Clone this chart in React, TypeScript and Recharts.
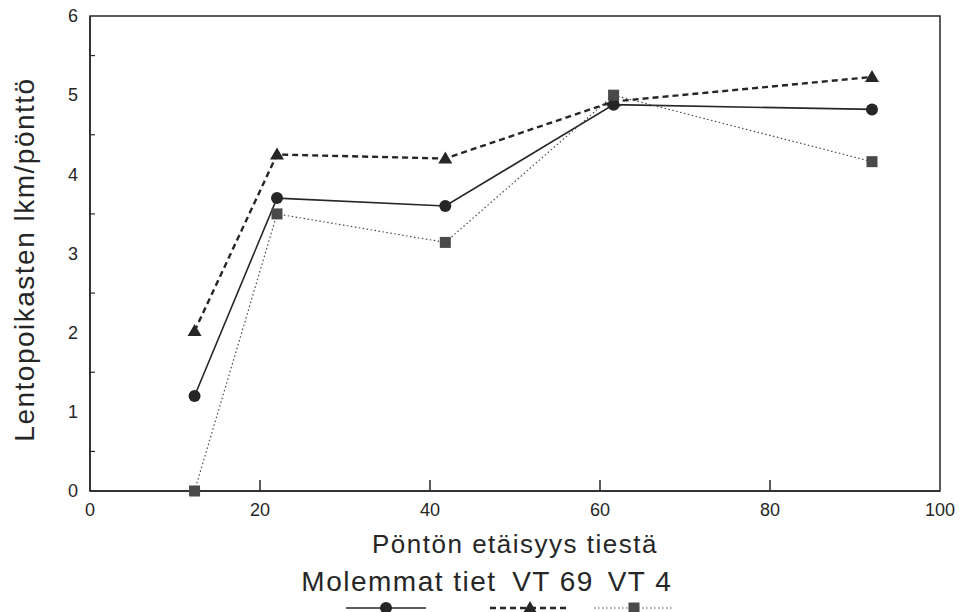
import React from 'react';
import { LineChart, Line, XAxis, YAxis, ReferenceArea, Legend, Label } from 'recharts';

// Pöntön etäisyys tiestä (x) ja lentopoikasten lkm/pönttö kolmelle sarjalle
const distances = [12.3, 22, 41.8, 61.6, 92];
const molemmatTiet = [1.2, 3.7, 3.6, 4.88, 4.82];
const vt69 = [2.02, 4.25, 4.2, 4.92, 5.23];
const vt4 = [0, 3.5, 3.14, 5.0, 4.16];

const xTicks = [0, 20, 40, 60, 80, 100];
const yTicks = [0, 0.5, 1, 1.5, 2, 2.5, 3, 3.5, 4, 4.5, 5, 5.5, 6];

const INK = '#262626';
const FONT = '"Liberation Sans", Arial, sans-serif';

type Shape = 'circle' | 'triangle' | 'square';

const SERIES: { key: string; name: string; dash?: string; width: number; color: string; shape: Shape }[] = [
  { key: 'molemmat', name: 'Molemmat tiet', width: 1.6, color: INK, shape: 'circle' },
  { key: 'vt69', name: 'VT 69', dash: '6 4', width: 2.4, color: INK, shape: 'triangle' },
  { key: 'vt4', name: 'VT 4', dash: '1.5 2.5', width: 1.2, color: '#4a4a4a', shape: 'square' },
];

const data = distances.map((x, i) => ({
  x,
  molemmat: molemmatTiet[i],
  vt69: vt69[i],
  vt4: vt4[i],
}));

// legend layout (label centres, sample centres)
const LEGEND_LABEL_X = [399, 553, 640];
const LEGEND_SAMPLE_X = [386, 530, 634];

function Marker({ cx, cy, shape, color }: { cx?: number; cy?: number; shape: Shape; color: string }) {
  if (cx == null || cy == null) return null;
  if (shape === 'circle') return <circle cx={cx} cy={cy} r={6} fill={color} />;
  if (shape === 'triangle')
    return <path d={`M${cx},${cy - 7}L${cx + 7},${cy + 5}L${cx - 7},${cy + 5}Z`} fill={color} />;
  return <rect x={cx - 5.5} y={cy - 5.5} width={11} height={11} fill={color} />;
}

const XTick = (props: any) => {
  const { x, y, payload } = props;
  const v = payload.value;
  return (
    <g>
      {v > 0 && v < 100 && <line x1={x} x2={x} y1={y - 12} y2={y - 23} stroke={INK} strokeWidth={1.5} />}
      <text x={x} y={y} dy="0.71em" textAnchor="middle" fontSize={18} fill={INK} fontFamily={FONT}>
        {v}
      </text>
    </g>
  );
};

const YTick = (props: any) => {
  const { x, y, payload } = props;
  const v = payload.value;
  const major = Number.isInteger(v);
  return (
    <g>
      {!major && <line x1={x + 12} x2={x + 17} y1={y} y2={y} stroke={INK} strokeWidth={1.2} />}
      {major && (
        <text x={x} y={y} dy="0.35em" textAnchor="end" fontSize={18} fill={INK} fontFamily={FONT}>
          {v}
        </text>
      )}
    </g>
  );
};

const XTitle = (props: any) => {
  const vb = props.viewBox;
  return (
    <text
      x={vb.x + vb.width / 2}
      y={vb.y + 62}
      textAnchor="middle"
      fontSize={26}
      letterSpacing={1.5}
      fill={INK}
      fontFamily={FONT}
    >
      Pöntön etäisyys tiestä
    </text>
  );
};

const YTitle = (props: any) => {
  const vb = props.viewBox;
  const cx = vb.x + 34;
  const cy = vb.y + vb.height / 2 + 6;
  return (
    <text
      x={cx}
      y={cy}
      transform={`rotate(-90, ${cx}, ${cy})`}
      textAnchor="middle"
      fontSize={28}
      letterSpacing={1.5}
      fill={INK}
      fontFamily={FONT}
    >
      Lentopoikasten lkm/pönttö
    </text>
  );
};

function LegendContent() {
  return (
    <svg width={940} height={51} style={{ display: 'block', overflow: 'visible' }}>
      {SERIES.map((s, i) => {
        const sx = LEGEND_SAMPLE_X[i];
        return (
          <g key={s.key}>
            <text
              x={LEGEND_LABEL_X[i]}
              y={30}
              textAnchor="middle"
              fontSize={28}
              letterSpacing={1.5}
              fill={INK}
              fontFamily={FONT}
            >
              {s.name}
            </text>
            <line
              x1={sx - 40}
              x2={sx + 40}
              y1={47}
              y2={47}
              stroke={s.color}
              strokeWidth={s.width}
              strokeDasharray={s.dash}
            />
            <Marker cx={sx} cy={47} shape={s.shape} color={s.color} />
          </g>
        );
      })}
    </svg>
  );
}

export default function App() {
  return (
    <div style={{ position: 'absolute', left: 0, top: 0, width: 966, height: 612, background: '#fff' }}>
      <LineChart width={966} height={612} data={data} margin={{ top: 16, right: 26, bottom: 0, left: 0 }}>
        <ReferenceArea x1={0} x2={100} y1={0} y2={6} fill="none" stroke={INK} strokeWidth={1.5} />
        <XAxis
          type="number"
          dataKey="x"
          domain={[0, 100]}
          ticks={xTicks}
          tickLine={false}
          tickSize={8}
          tickMargin={4}
          tick={XTick}
          height={70}
          axisLine={{ stroke: INK, strokeWidth: 1.5 }}
        >
          <Label content={XTitle} />
        </XAxis>
        <YAxis
          type="number"
          domain={[0, 6]}
          ticks={yTicks}
          interval={0}
          tickLine={false}
          tickSize={8}
          tickMargin={4}
          tick={YTick}
          width={90}
          axisLine={{ stroke: INK, strokeWidth: 1.5 }}
        >
          <Label content={YTitle} />
        </YAxis>
        <Legend verticalAlign="bottom" content={LegendContent} />
        {SERIES.map((s) => (
          <Line
            key={s.key}
            dataKey={s.key}
            name={s.name}
            type="linear"
            stroke={s.color}
            strokeWidth={s.width}
            strokeDasharray={s.dash}
            isAnimationActive={false}
            dot={(p: any) => <Marker key={`${s.key}-${p.index}`} cx={p.cx} cy={p.cy} shape={s.shape} color={s.color} />}
            activeDot={false}
          />
        ))}
      </LineChart>
    </div>
  );
}
